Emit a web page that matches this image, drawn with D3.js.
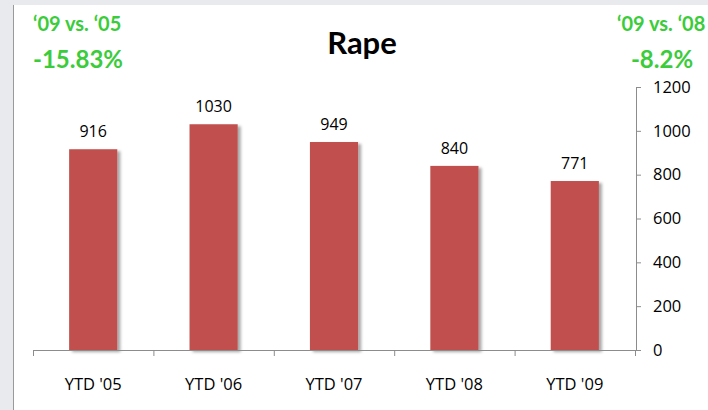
<!DOCTYPE html>
<html>
<head>
<meta charset="utf-8">
<script src="https://cdn.jsdelivr.net/npm/d3@7"></script>
<style>
  body { margin: 0; background: #e9eaee; }
  svg { display: block; font-family: "Open Sans", sans-serif; }
</style>
</head>
<body>
<svg id="vis" width="708" height="410"></svg>
<script>
const categories = ["YTD '05", "YTD '06", "YTD '07", "YTD '08", "YTD '09"];
const values = [916, 1030, 949, 840, 771];
const yTicks = [0, 200, 400, 600, 800, 1000, 1200];
const title = "Rape";
const leftNote = ["\u201809 vs. \u201805", "-15.83%"];
const rightNote = ["\u201809 vs. \u201808", "-8.2%"];

const svg = d3.select("#vis");

// white panel
svg.append("rect").attr("x", 13).attr("y", 5).attr("width", 700).attr("height", 410)
  .attr("fill", "#fff");
svg.append("line").attr("x1", 13.5).attr("x2", 13.5).attr("y1", 5).attr("y2", 410)
  .attr("stroke", "#9a9a9a");

const defs = svg.append("defs");
defs.append("filter").attr("id", "shadow").attr("x", "-20%").attr("y", "-10%")
  .attr("width", "150%").attr("height", "130%")
  .append("feDropShadow").attr("dx", 3).attr("dy", 2).attr("stdDeviation", 1.8)
  .attr("flood-color", "#000").attr("flood-opacity", 0.35);

const x = d3.scaleBand().domain(categories).range([33, 635]).paddingInner(0.6).paddingOuter(0.3);
const y = d3.scaleLinear().domain([0, 1200]).range([350, 87]);

svg.append("g").selectAll("rect")
  .data(values)
  .join("rect")
  .attr("x", (d, i) => x(categories[i]))
  .attr("width", x.bandwidth())
  .attr("y", d => y(d))
  .attr("height", d => y(0) - y(d))
  .attr("fill", "#c0504d")
  .attr("filter", "url(#shadow)");

svg.append("g").selectAll("text")
  .data(values)
  .join("text")
  .attr("x", (d, i) => x(categories[i]) + x.bandwidth() / 2)
  .attr("y", d => y(d) - 12)
  .attr("text-anchor", "middle")
  .attr("font-size", 16)
  .attr("fill", "#000")
  .text(d => d);

// x axis: ticks between categories
const step = (635 - 33) / categories.length;
const xAxis = svg.append("g").attr("stroke", "#8c8c8c");
xAxis.append("line").attr("x1", 33).attr("x2", 635).attr("y1", 350.5).attr("y2", 350.5);
xAxis.selectAll(".tk").data(d3.range(categories.length + 1)).join("line")
  .attr("x1", i => 33.5 + i * step).attr("x2", i => 33.5 + i * step)
  .attr("y1", 350).attr("y2", 356);

svg.append("g").selectAll("text").data(categories).join("text")
  .attr("x", d => x(d) + x.bandwidth() / 2)
  .attr("y", 390)
  .attr("text-anchor", "middle")
  .attr("font-size", 16.5)
  .attr("fill", "#000")
  .text(d => d);

// y axis on the right
const yAxis = svg.append("g").attr("transform", "translate(636,0)")
  .call(d3.axisRight(y).tickValues(yTicks).tickSize(5).tickPadding(12).tickFormat(d3.format("d")));
yAxis.select(".domain").attr("stroke", "#8c8c8c").attr("d", "M5,87.5H0.5V350.5");
yAxis.selectAll(".tick line").attr("stroke", "#8c8c8c");
yAxis.selectAll(".tick text").attr("font-size", 16.5).attr("fill", "#000")
  .attr("font-family", "'Open Sans', sans-serif");

// title
svg.append("text").attr("x", 362).attr("y", 54).attr("text-anchor", "middle")
  .attr("font-family", "Lato, sans-serif")
  .attr("font-size", 31).attr("font-weight", "bold").attr("fill", "#000").text(title);

// green notes
const green = "#3acc3a";
const note = (xp, yp, size, txt, anchor) => svg.append("text")
  .attr("x", xp).attr("y", yp).attr("text-anchor", anchor)
  .attr("font-family", "Lato, sans-serif").attr("font-size", size).attr("font-weight", "bold")
  .attr("fill", green).text(txt);
note(33, 31, 20, leftNote[0], "start");
note(33, 68, 24, leftNote[1], "start");
note(617, 31, 20, rightNote[0], "start");
note(662, 68, 24, rightNote[1], "middle");
</script>
</body>
</html>
